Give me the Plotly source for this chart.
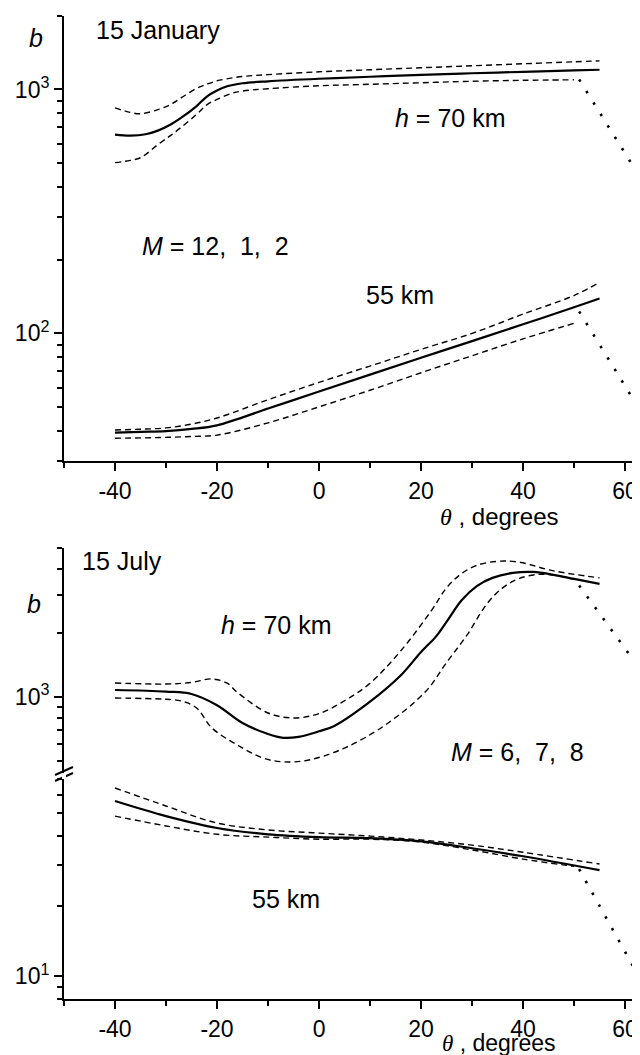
import plotly.graph_objects as go

# ---------------- data ----------------
# 15 January, h = 70 km
jan70_theta = [-40, -37, -34, -31.6, -29, -27, -24, -22, -20, -18, -15, -10, 0, 10, 20, 30, 40, 50, 55]
jan70_mid = [653, 647, 655, 678, 720, 766, 855, 935, 990, 1030, 1060, 1080, 1106, 1127, 1148, 1165, 1181, 1198, 1204]
jan70_hi_theta = [-40, -37, -35, -31.6, -29, -27, -24, -22, -20, -17, -15, -10, 0, 10, 20, 30, 40, 50, 55]
jan70_hi = [841, 805, 795, 826, 870, 925, 1010, 1050, 1085, 1115, 1130, 1150, 1181, 1204, 1227, 1250, 1274, 1298, 1310]
jan70_lo_theta = [-40, -37, -35, -31.6, -29, -27, -24, -22, -20, -17, -15, -10, 0, 10, 20, 30, 40, 50]
jan70_lo = [501, 512, 525, 594, 650, 700, 790, 865, 910, 965, 985, 1007, 1035, 1050, 1065, 1080, 1090, 1095]
jan70_dot_theta = [51, 66]
jan70_dot = [1098, 344]

# 15 January, h = 55 km
jan55_theta = [-40, -35, -30, -25, -20, -10, 0, 10, 20, 30, 40, 50, 55]
jan55_mid = [39.2, 39.5, 39.8, 40.6, 42, 49.2, 57.8, 67.8, 79.5, 93, 109, 128, 139]
jan55_hi = [40.2, 40.5, 41, 42.5, 45, 53.5, 63, 73.5, 86, 100, 120, 143, 162]
jan55_lo_theta = [-40, -35, -30, -25, -20, -10, 0, 10, 20, 30, 40, 50]
jan55_lo = [37.2, 37.3, 37.5, 37.8, 38.3, 43, 50, 58.5, 69, 81, 95, 110]
jan55_dot_theta = [51, 66]
jan55_dot = [123, 38.1]

# 15 July, h = 70 km
jul70_theta = [-40, -30, -25, -20, -15, -10, -7, -4, 0, 3, 10, 16, 20, 23, 25, 28, 31, 34, 38, 42, 46, 50, 55]
jul70_mid = [1078, 1060, 1033, 915, 755, 670, 643, 650, 690, 731, 950, 1260, 1625, 1930, 2250, 2850, 3320, 3620, 3820, 3860, 3740, 3580, 3394]
jul70_hi_theta = [-40, -30, -25, -21, -18, -16, -10, -5, 0, 5, 10, 16, 22, 25, 28, 31, 35, 39, 46, 55]
jul70_hi = [1163, 1150, 1170, 1215, 1160, 1050, 841, 797, 835, 960, 1160, 1644, 2535, 3250, 3800, 4150, 4330, 4300, 3906, 3622]
jul70_lo_theta = [-40, -30, -27, -24, -21, -16, -11, -7, -2, 5, 13, 21, 25, 29, 33, 36, 39, 43, 47, 50]
jul70_lo = [989, 975, 958, 888, 715, 595, 517, 496, 506, 576, 739, 1067, 1450, 1950, 2750, 3250, 3580, 3760, 3700, 3560]
jul70_dot_theta = [51, 66]
jul70_dot = [3335, 1071]

# 15 July, h = 55 km
jul55_theta = [-40, -30, -20, -10, 0, 10, 20, 30, 40, 55]
jul55_mid = [56.4, 48.6, 43.2, 40.6, 39.5, 39.1, 37.9, 35.4, 32.7, 28.5]
jul55_hi = [64.1, 53.7, 45.4, 42.4, 41.1, 39.9, 38.4, 36.5, 34.0, 30.3]
jul55_lo_theta = [-40, -30, -20, -10, 0, 10, 20, 30, 40, 50]
jul55_lo = [48.6, 44.1, 40.6, 39.5, 38.7, 38.7, 37.6, 34.8, 31.8, 29.6]
jul55_dot_theta = [51, 66]
jul55_dot = [28.8, 7.4]

x_major = [-40, -20, 0, 20, 40, 60]
x_minor = [-50, -30, -10, 10, 30, 50]

# ---------------- figure ----------------
W, H = 640, 1055
ML = 56
PW = W - ML
FONT = "Liberation Sans, Arial, sans-serif"


def px(x):
    return (x - ML) / PW


def py(y):
    return 1 - y / H


SOLID = dict(color="black", width=2.2)
DASH = dict(color="black", width=1.4, dash="6px,4px")
DOT = dict(color="black", width=2.6, dash="2.5px,11px")

fig = go.Figure()


def add(xs, ys, line, xa, ya, spline=True):
    fig.add_trace(go.Scatter(
        x=xs, y=ys, mode="lines",
        line=dict(**line, shape="spline" if spline else "linear", smoothing=1.0),
        xaxis=xa, yaxis=ya, showlegend=False, hoverinfo="skip"))


# top panel
add(jan70_theta, jan70_mid, SOLID, "x", "y")
add(jan70_hi_theta, jan70_hi, DASH, "x", "y")
add(jan70_lo_theta, jan70_lo, DASH, "x", "y")
add(jan70_dot_theta, jan70_dot, DOT, "x", "y", spline=False)
add(jan55_theta, jan55_mid, SOLID, "x", "y")
add(jan55_theta, jan55_hi, DASH, "x", "y")
add(jan55_lo_theta, jan55_lo, DASH, "x", "y")
add(jan55_dot_theta, jan55_dot, DOT, "x", "y", spline=False)

# bottom panel
add(jul70_theta, jul70_mid, SOLID, "x2", "y2")
add(jul70_hi_theta, jul70_hi, DASH, "x2", "y2")
add(jul70_lo_theta, jul70_lo, DASH, "x2", "y2")
add(jul70_dot_theta, jul70_dot, DOT, "x2", "y2", spline=False)
add(jul55_theta, jul55_mid, SOLID, "x2", "y3")
add(jul55_theta, jul55_hi, DASH, "x2", "y3")
add(jul55_lo_theta, jul55_lo, DASH, "x2", "y3")
add(jul55_dot_theta, jul55_dot, DOT, "x2", "y3", spline=False)

tickfont = dict(family=FONT, size=23, color="black")

xcommon = dict(
    range=[-50, 64.5], showline=True, linecolor="black", linewidth=2,
    ticks="outside", ticklen=8, tickwidth=2, tickcolor="black",
    tickmode="array", tickvals=x_major, ticktext=[str(v) for v in x_major],
    minor=dict(tickmode="array", tickvals=x_minor, ticks="outside", ticklen=5, tickwidth=1.5,
               tickcolor="black", showgrid=False),
    showgrid=False, zeroline=False, tickfont=tickfont, automargin=False, domain=[0, 1],
)

ycommon = dict(
    type="log", showline=True, linecolor="black", linewidth=2,
    ticks="outside", ticklen=8, tickwidth=2, tickcolor="black",
    showgrid=False, zeroline=False, tickfont=tickfont, automargin=False,
)


def minors(decades, lo, hi):
    out = []
    for d in decades:
        for m in range(2, 10):
            v = m * d
            if lo <= v <= hi:
                out.append(v)
    return out


fig.update_layout(
    width=W, height=H,
    margin=dict(l=ML, r=0, t=0, b=0),
    paper_bgcolor="white", plot_bgcolor="white",
    font=dict(family=FONT, color="black"),
    xaxis=dict(**xcommon, anchor="y"),
    xaxis2=dict(**xcommon, anchor="y3"),
    yaxis=dict(**ycommon, anchor="x", domain=[py(453), py(8)], range=[1.4771, 3.3010],
               tickmode="array", tickvals=[100, 1000], ticktext=["10<sup>2</sup>", "10<sup>3</sup>"],
               minor=dict(tickmode="array", tickvals=minors([10, 100, 1000], 30, 2000), ticks="outside",
                          ticklen=5, tickwidth=1.5, tickcolor="black", showgrid=False)),
    yaxis2=dict(**ycommon, anchor="x2", domain=[py(765), py(540)], range=[2.6432, 3.699],
                tickmode="array", tickvals=[1000], ticktext=["10<sup>3</sup>"],
                minor=dict(tickmode="array", tickvals=minors([100, 1000], 450, 5000), ticks="outside",
                           ticklen=5, tickwidth=1.5, tickcolor="black", showgrid=False)),
    yaxis3=dict(**ycommon, anchor="x2", domain=[py(991), py(771)], range=[0.9031, 1.8455],
                tickmode="array", tickvals=[10], ticktext=["10<sup>1</sup>"],
                minor=dict(tickmode="array", tickvals=[8, 9] + minors([10], 20, 70), ticks="outside",
                           ticklen=5, tickwidth=1.5, tickcolor="black", showgrid=False)),
)

NB = "\u00a0"


def ann(text, x, y, xanchor="center", size=25):
    fig.add_annotation(text=text, x=px(x), y=py(y), xref="paper", yref="paper",
                       xanchor=xanchor, yanchor="middle", showarrow=False,
                       font=dict(family=FONT, size=size, color="black"))


theta_lbl = ("<span style='font-family:Liberation Serif, Times New Roman, serif'><i>θ</i></span>"
             + NB + ", degrees")

ann("15 January", 86, 22, xanchor="left")
ann("<i>b</i>", 28, 30)
ann("<i>h</i> = 70 km", 442, 110)
ann("<i>M</i> = 12," + NB * 2 + "1," + NB * 2 + "2", 207, 238)
ann("55 km", 392, 287)
ann(theta_lbl, 491, 508, size=24)

ann("15 July", 72, 553, xanchor="left")
ann("<i>b</i>", 26, 596)
ann("<i>h</i> = 70 km", 268, 617)
ann("<i>M</i> = 6," + NB * 2 + "7," + NB * 2 + "8", 578, 744, xanchor="right")
ann("55 km", 278, 891)
ann(theta_lbl, 491, 1035, size=23)

# axis break marks
for yy in (767, 773):
    fig.add_shape(type="line", xref="paper", yref="paper",
                  x0=px(47), y0=py(yy), x1=px(65), y1=py(yy - 8),
                  line=dict(color="black", width=2))
fig.add_shape(type="rect", xref="paper", yref="paper",
              x0=px(54), y0=py(771), x1=px(58), y1=py(765),
              line=dict(width=0), fillcolor="white", layer="above")

fig.write_html("out.html")
